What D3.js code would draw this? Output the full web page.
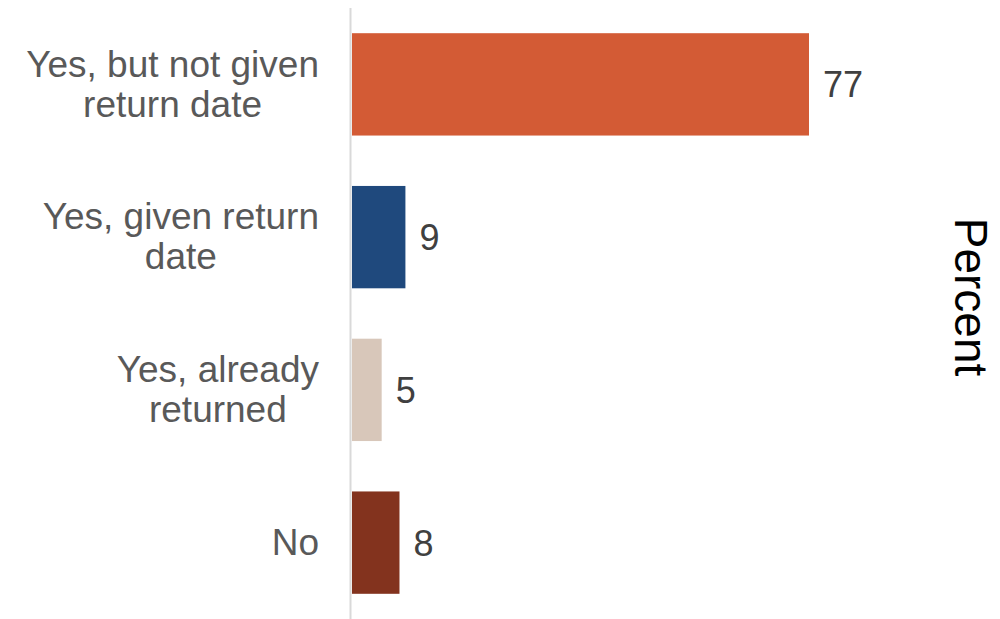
<!DOCTYPE html>
<html>
<head>
<meta charset="utf-8">
<script src="https://cdn.jsdelivr.net/npm/d3@7"></script>
<style>
  html, body { margin: 0; padding: 0; background: #fff; }
  svg { display: block; }
</style>
</head>
<body>
<svg id="chart" width="1000" height="619"></svg>
<script>
const categories = [
  ["Yes, but not given", "return date"],
  ["Yes, given return", "date"],
  ["Yes, already", "returned"],
  ["No"]
];
const values = [77, 9, 5, 8];
const colors = ["#D35B35", "#1F497D", "#D8C7BA", "#83331E"];
const axisTitle = "Percent";

const svg = d3.select("#chart");
const keys = categories.map(c => c.join(" "));
const font = "'Liberation Sans', Arial, sans-serif";

const x = d3.scaleLinear().domain([0, 77]).range([352, 809]);
const y = d3.scaleBand().domain(keys).range([8, 619]).paddingInner(0.33).paddingOuter(0.165);

// axis line
svg.append("line")
  .attr("x1", 350.5).attr("x2", 350.5)
  .attr("y1", 8).attr("y2", 619)
  .attr("stroke", "#D9D9D9").attr("stroke-width", 2);

// bars
svg.selectAll("rect.bar").data(values).join("rect")
  .attr("class", "bar")
  .attr("x", x(0))
  .attr("y", (d, i) => y(keys[i]))
  .attr("width", d => x(d) - x(0))
  .attr("height", y.bandwidth())
  .attr("fill", (d, i) => colors[i]);

// value labels
svg.selectAll("text.val").data(values).join("text")
  .attr("class", "val")
  .attr("x", d => x(d) + 14)
  .attr("y", (d, i) => y(keys[i]) + y.bandwidth() / 2)
  .attr("dy", "0.36em")
  .attr("font-family", font)
  .attr("font-size", 36)
  .attr("fill", "#404040")
  .text(d => d);

// category labels (right aligned block, lines centered)
const labelRight = 319;
const lineH = 40;
categories.forEach((lines, i) => {
  const cy = y(keys[i]) + y.bandwidth() / 2;
  const g = svg.append("g");
  const texts = lines.map((ln, j) => g.append("text")
    .attr("font-family", font)
    .attr("font-size", 37)
    .attr("fill", "#595959")
    .attr("text-anchor", "middle")
    .attr("y", cy + (j - (lines.length - 1) / 2) * lineH - 1)
    .attr("dy", "0.36em")
    .text(ln));
  const maxW = d3.max(texts, t => t.node().getComputedTextLength());
  texts.forEach(t => t.attr("x", labelRight - maxW / 2));
});

// axis title
svg.append("text")
  .attr("transform", "translate(955,297) rotate(90)")
  .attr("text-anchor", "middle")
  .attr("font-family", font)
  .attr("font-size", 46)
  .attr("fill", "#000")
  .text(axisTitle);
</script>
</body>
</html>
